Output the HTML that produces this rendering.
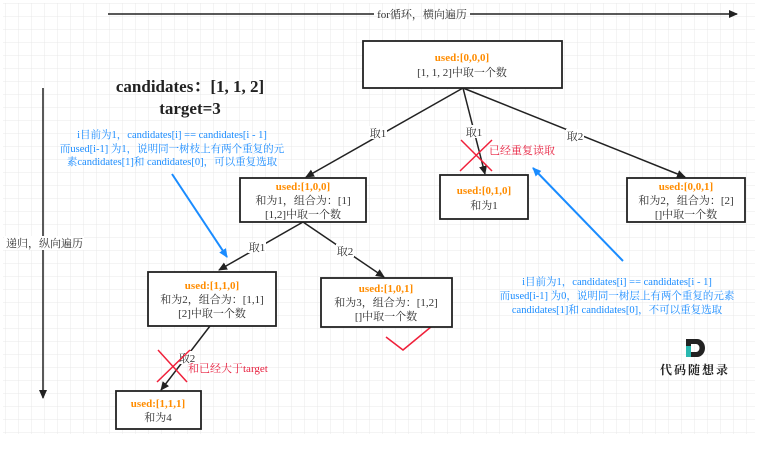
<!DOCTYPE html>
<html><head><meta charset="utf-8"><style>
html,body{margin:0;padding:0;background:#fff;}
svg{display:block;}
text{font-family:"Liberation Serif","Noto Serif CJK SC","Noto Sans CJK SC",serif;}
</style></head><body>
<svg width="761" height="451" viewBox="0 0 761 451" xmlns="http://www.w3.org/2000/svg">
<defs>
<pattern id="g" x="6" y="4" width="13" height="13" patternUnits="userSpaceOnUse">
<path d="M13 0V13M0 13H13" fill="none" stroke="#e8e8e8" stroke-width="1"/>
</pattern>
<marker id="a" markerWidth="10" markerHeight="10" refX="8" refY="5" orient="auto" markerUnits="userSpaceOnUse"><path d="M0,1 L9,5 L0,9 Z" fill="#222"/></marker>
<marker id="b" markerWidth="10" markerHeight="10" refX="8" refY="5" orient="auto" markerUnits="userSpaceOnUse"><path d="M0,1 L9,5 L0,9 Z" fill="#1a8cff"/></marker>
</defs>
<rect x="3" y="3" width="752" height="431" fill="url(#g)"/>
<!-- top arrow -->
<line x1="108" y1="14" x2="374" y2="14" stroke="#222" stroke-width="1.5"/>
<line x1="470" y1="14" x2="737" y2="14" stroke="#222" stroke-width="1.5" marker-end="url(#a)"/>
<text x="422" y="18" font-size="11" fill="#333" text-anchor="middle">for循环，横向遍历</text>
<!-- left arrow -->
<line x1="43" y1="88" x2="43" y2="398" stroke="#222" stroke-width="1.5" marker-end="url(#a)"/>
<rect x="4" y="236" width="80" height="14" fill="#fff"/>
<text x="6" y="247" font-size="11" fill="#333">递归，纵向遍历</text>
<!-- title -->
<text x="190" y="92" font-size="17" font-weight="bold" fill="#222" text-anchor="middle">candidates：[1, 1, 2]</text>
<text x="190" y="114" font-size="17" font-weight="bold" fill="#222" text-anchor="middle">target=3</text>
<g font-size="10.5" fill="#1a8cff" text-anchor="middle">
<text x="172" y="138">i目前为1，candidates[i] == candidates[i - 1]</text>
<text x="172" y="152">而used[i-1] 为1，说明同一树枝上有两个重复的元</text>
<text x="172" y="165">素candidates[1]和 candidates[0]，可以重复选取</text>
<text x="617" y="285">i目前为1，candidates[i] == candidates[i - 1]</text>
<text x="617" y="299">而used[i-1] 为0，说明同一树层上有两个重复的元素</text>
<text x="617" y="313">candidates[1]和 candidates[0]，不可以重复选取</text>
</g>
<!-- connectors -->
<g stroke="#222" stroke-width="1.5" fill="none">
<line x1="463" y1="88" x2="306" y2="177" marker-end="url(#a)"/>
<line x1="463" y1="88" x2="485" y2="174" marker-end="url(#a)"/>
<line x1="463" y1="88" x2="685" y2="177" marker-end="url(#a)"/>
<line x1="303" y1="222" x2="219" y2="270" marker-end="url(#a)"/>
<line x1="303" y1="222" x2="384" y2="277" marker-end="url(#a)"/>
<line x1="210" y1="326" x2="161" y2="390" marker-end="url(#a)"/>
</g>
<g font-size="11" fill="#333" text-anchor="middle">
<rect x="369" y="126" width="18" height="13" fill="#fff"/><text x="378" y="137">取1</text>
<rect x="465" y="125" width="18" height="13" fill="#fff"/><text x="474" y="136">取1</text>
<rect x="566" y="129" width="18" height="13" fill="#fff"/><text x="575" y="140">取2</text>
<rect x="248" y="240" width="18" height="13" fill="#fff"/><text x="257" y="251">取1</text>
<rect x="336" y="244" width="18" height="13" fill="#fff"/><text x="345" y="255">取2</text>
<rect x="178" y="351" width="18" height="13" fill="#fff"/><text x="187" y="362">取2</text>
</g>
<!-- blue arrows -->
<line x1="172" y1="174" x2="227" y2="257" stroke="#1a8cff" stroke-width="2" marker-end="url(#b)"/>
<line x1="623" y1="261" x2="533" y2="168" stroke="#1a8cff" stroke-width="2" marker-end="url(#b)"/>
<!-- red marks -->
<g stroke="#f0203a" stroke-width="1.5" fill="none">
<line x1="461" y1="140" x2="492" y2="171"/><line x1="460" y1="171" x2="492" y2="140"/>
<line x1="158" y1="350" x2="187" y2="382"/><line x1="157" y1="382" x2="190" y2="350"/>
<polyline points="386,337 403,350 443,317"/>
</g>
<text x="489" y="154" font-size="11" fill="#e8203f">已经重复读取</text>
<text x="188" y="372" font-size="11" fill="#e8203f">和已经大于target</text>
<!-- boxes -->
<g stroke="#222" stroke-width="1.8" fill="#fff">
<rect x="363" y="41" width="199" height="47"/>
<rect x="240" y="178" width="126" height="44"/>
<rect x="440" y="175" width="88" height="44"/>
<rect x="627" y="178" width="118" height="44"/>
<rect x="148" y="272" width="128" height="54"/>
<rect x="321" y="278" width="131" height="49"/>
<rect x="116" y="391" width="85" height="38"/>
</g>
<g font-size="11" text-anchor="middle">
<text x="462" y="61" fill="#ff8c00" font-weight="bold">used:[0,0,0]</text>
<text x="462" y="76" fill="#333">[1, 1, 2]中取一个数</text>
<text x="303" y="190" fill="#ff8c00" font-weight="bold">used:[1,0,0]</text>
<text x="303" y="204" fill="#333">和为1，组合为：[1]</text>
<text x="303" y="218" fill="#333">[1,2]中取一个数</text>
<text x="484" y="194" fill="#ff8c00" font-weight="bold">used:[0,1,0]</text>
<text x="484" y="209" fill="#333">和为1</text>
<text x="686" y="190" fill="#ff8c00" font-weight="bold">used:[0,0,1]</text>
<text x="686" y="204" fill="#333">和为2，组合为：[2]</text>
<text x="686" y="218" fill="#333">[]中取一个数</text>
<text x="212" y="289" fill="#ff8c00" font-weight="bold">used:[1,1,0]</text>
<text x="212" y="303" fill="#333">和为2，组合为：[1,1]</text>
<text x="212" y="317" fill="#333">[2]中取一个数</text>
<text x="386" y="292" fill="#ff8c00" font-weight="bold">used:[1,0,1]</text>
<text x="386" y="306" fill="#333">和为3，组合为：[1,2]</text>
<text x="386" y="320" fill="#333">[]中取一个数</text>
<text x="158" y="407" fill="#ff8c00" font-weight="bold">used:[1,1,1]</text>
<text x="158" y="421" fill="#333">和为4</text>
</g>
<!-- logo -->
<rect x="686" y="339" width="5" height="18" fill="#2ab8b0"/>
<rect x="686" y="339" width="5" height="7" fill="#222"/>
<path d="M691,339 H697 A8,9 0 0 1 697,357 H691 V352 H696 A3.5,4 0 0 0 696,344 H691 Z" fill="#222"/>
<text x="695" y="374" font-size="12" font-weight="bold" fill="#222" text-anchor="middle" letter-spacing="2">代码随想录</text>
</svg>
</body></html>
